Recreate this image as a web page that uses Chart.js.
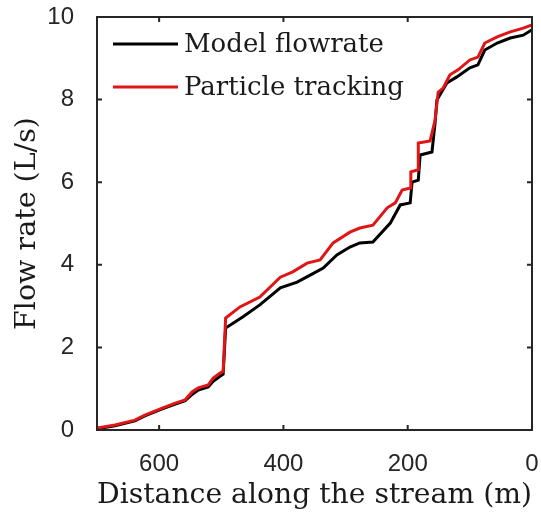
<!DOCTYPE html>
<html>
<head>
<meta charset="utf-8">
<script src="https://cdn.jsdelivr.net/npm/chart.js@4.4.0/dist/chart.umd.min.js"></script>
<style>
  html, body { margin: 0; padding: 0; background: #fff; }
  #wrap { width: 541px; height: 519px; }
</style>
</head>
<body>
<div id="wrap"><canvas id="flowChart" width="541" height="519"></canvas></div>
<script>
// distance along the stream (m) and flow rate (L/s)
const modelDist = [700, 671, 639, 623, 595, 574, 558, 547, 537, 521, 513, 502, 497, 493, 465, 438, 405, 378, 357, 336, 314, 293, 277, 256, 228, 212, 196, 193, 183, 180, 161, 156, 153, 137, 121, 100, 87, 76, 56, 35, 14, 0];
const modelFlow = [0.03, 0.10, 0.22, 0.34, 0.51, 0.63, 0.71, 0.86, 0.97, 1.04, 1.18, 1.30, 1.35, 2.47, 2.74, 3.03, 3.44, 3.58, 3.75, 3.92, 4.24, 4.43, 4.53, 4.55, 5.01, 5.45, 5.50, 6.00, 6.05, 6.66, 6.73, 7.43, 7.99, 8.40, 8.55, 8.77, 8.84, 9.20, 9.37, 9.49, 9.56, 9.69];

const trackDist = [700, 671, 639, 623, 595, 574, 558, 547, 537, 521, 513, 502, 497, 493, 470, 438, 405, 385, 362, 341, 320, 293, 277, 256, 233, 220, 209, 196, 195, 183, 183, 164, 156, 151, 143, 132, 119, 100, 87, 76, 56, 35, 14, 0];
const trackFlow = [0.05, 0.12, 0.24, 0.36, 0.53, 0.65, 0.73, 0.92, 1.02, 1.09, 1.26, 1.38, 1.42, 2.71, 2.98, 3.22, 3.70, 3.83, 4.04, 4.12, 4.53, 4.79, 4.89, 4.96, 5.38, 5.50, 5.81, 5.86, 6.25, 6.30, 6.95, 7.00, 7.50, 8.18, 8.28, 8.60, 8.72, 8.96, 9.03, 9.37, 9.52, 9.64, 9.73, 9.81];

const seriesNames = ['Model flowrate', 'Particle tracking'];
const xTicks = [600, 400, 200, 0];
const yTicks = [0, 2, 4, 6, 8, 10];

const toPoints = (xs, ys) => xs.map((x, i) => ({ x: x, y: ys[i] }));

const axisColor = '#262626';
const serif = "'DejaVu Serif', serif";
const sans = "'Liberation Sans', Arial, sans-serif";

// fixed scale size, no extra room for overhanging tick labels
const fixSize = (w, h) => s => {
  if (w) s.width = w;
  if (h) s.height = h;
  s.paddingTop = s.paddingBottom = s.paddingLeft = s.paddingRight = 0;
};

// matlab-style box with inward ticks plus an in-axes legend
const boxPlugin = {
  id: 'boxPlugin',
  afterDatasetsDraw(chart) {
    const { ctx, chartArea: a, scales } = chart;
    ctx.save();
    ctx.strokeStyle = axisColor;
    ctx.lineWidth = 2;
    ctx.strokeRect(a.left, a.top, a.right - a.left, a.bottom - a.top);
    ctx.beginPath();
    xTicks.forEach(v => {
      const px = scales.x.getPixelForValue(v);
      ctx.moveTo(px, a.bottom); ctx.lineTo(px, a.bottom - 5);
      ctx.moveTo(px, a.top); ctx.lineTo(px, a.top + 5);
    });
    yTicks.forEach(v => {
      const py = scales.y.getPixelForValue(v);
      ctx.moveTo(a.left, py); ctx.lineTo(a.left + 5, py);
      ctx.moveTo(a.right, py); ctx.lineTo(a.right - 5, py);
    });
    ctx.stroke();

    // legend
    ctx.font = '26px ' + serif;
    ctx.textBaseline = 'middle';
    chart.data.datasets.forEach((ds, i) => {
      const y = a.top + 27 + i * 43;
      ctx.strokeStyle = ds.borderColor;
      ctx.lineWidth = 3;
      ctx.beginPath();
      ctx.moveTo(a.left + 16, y);
      ctx.lineTo(a.left + 81, y);
      ctx.stroke();
      ctx.fillStyle = '#1a1a1a';
      ctx.fillText(ds.label, a.left + 87, y + 1);
    });
    ctx.restore();
  }
};

new Chart(document.getElementById('flowChart'), {
  type: 'line',
  data: {
    datasets: [
      {
        label: seriesNames[0],
        data: toPoints(modelDist, modelFlow),
        borderColor: '#000000',
        backgroundColor: '#000000',
        borderWidth: 3,
        pointRadius: 0,
        tension: 0,
        order: 2
      },
      {
        label: seriesNames[1],
        data: toPoints(trackDist, trackFlow),
        borderColor: '#e01515',
        backgroundColor: '#e01515',
        borderWidth: 3,
        pointRadius: 0,
        tension: 0,
        order: 1
      }
    ]
  },
  options: {
    responsive: false,
    animation: false,
    events: [],
    layout: { padding: { top: 17, right: 9, bottom: 0, left: 0 } },
    plugins: {
      legend: { display: false },
      tooltip: { enabled: false }
    },
    scales: {
      x: {
        type: 'linear',
        reverse: true,
        min: 0,
        max: 700,
        grid: { display: false },
        border: { display: false },
        afterBuildTicks: s => { s.ticks = xTicks.map(v => ({ value: v })); },
        afterFit: fixSize(0, 89),
        ticks: {
          maxRotation: 0,
          padding: 12,
          color: axisColor,
          font: { family: sans, size: 24 }
        },
        title: {
          display: true,
          text: 'Distance along the stream (m)',
          color: '#1a1a1a',
          padding: { top: 0, bottom: 6 },
          font: { family: serif, size: 28.5 }
        }
      },
      y: {
        min: 0,
        max: 10,
        grid: { display: false },
        border: { display: false },
        afterBuildTicks: s => { s.ticks = yTicks.map(v => ({ value: v })); },
        afterFit: fixSize(97, 0),
        ticks: {
          padding: 15,
          color: axisColor,
          font: { family: sans, size: 24 }
        },
        title: {
          display: true,
          text: 'Flow rate (L/s)',
          color: '#1a1a1a',
          padding: { top: 10, bottom: 0 },
          font: { family: serif, size: 28.5 }
        }
      }
    }
  },
  plugins: [boxPlugin]
});
</script>
</body>
</html>
